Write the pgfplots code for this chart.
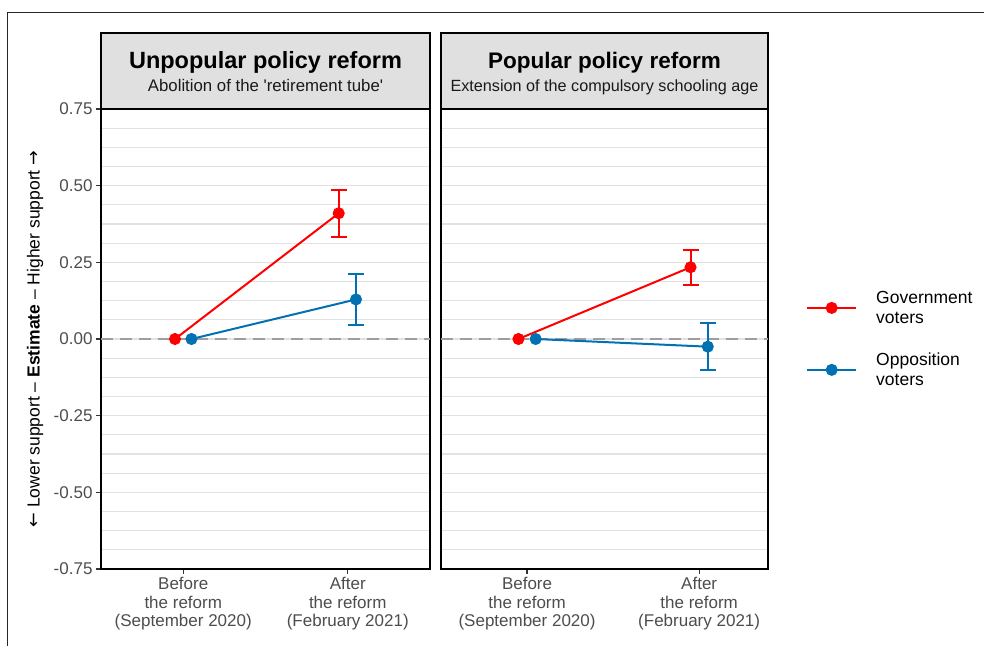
\documentclass[border=0pt]{standalone}
\usepackage{pgfplots}
\pgfplotsset{compat=1.18}
\usepackage{fontspec}
\setmainfont{Liberation Sans}[Ligatures=TeXOff]
\newfontfamily\arrowfont{DejaVu Sans}
\definecolor{govred}{HTML}{FF0000}
\definecolor{oppblue}{HTML}{0072B2}
\definecolor{stripgray}{HTML}{E0E0E0}
\definecolor{gridgray}{HTML}{E2E2E2}
\definecolor{tickgray}{HTML}{4D4D4D}
\definecolor{zerogray}{HTML}{9E9E9E}

\pgfplotsset{
  panel/.style={
    scale only axis, height=460pt,
    ymin=-0.75, ymax=0.75,
    clip=false,
    axis line style={line width=2pt, black},
    xtick={1,2},
    xticklabels={{Before\\the reform\\(September 2020)},{After\\the reform\\(February 2021)}},
    xticklabel style={align=center, font=\fontsize{17}{18.5}\selectfont, text=tickgray},
    ytick={-0.75,-0.5,-0.25,0,0.25,0.5,0.75},
    yticklabels={-0.75,-0.50,-0.25,0.00,0.25,0.50,0.75},
    minor ytick={-0.6875,-0.625,-0.5625,-0.4375,-0.375,-0.3125,-0.1875,-0.125,-0.0625,0.0625,0.125,0.1875,0.3125,0.375,0.4375,0.5625,0.625,0.6875},
    ymajorgrids, yminorgrids,
    major grid style={gridgray, line width=1.3pt},
    minor grid style={gridgray, line width=1.3pt},
    major tick length=5pt, minor tick length=0pt,
    tick align=outside,
    xtick pos=lower, ytick pos=left,
    tick style={line width=1.2pt, black!80},
    yticklabel style={font=\fontsize{17}{20}\selectfont, text=tickgray},
  },
  govline/.style={govred, line width=2pt, mark=*, mark size=5pt, mark options={solid, fill=govred, draw=govred}},
  oppline/.style={oppblue, line width=2pt, mark=*, mark size=5pt, mark options={solid, fill=oppblue, draw=oppblue}},
  goverr/.style={govred, line width=2pt, mark=none, forget plot,
    error bars/.cd, y dir=both, y explicit, error mark=|,
    error bar style={line width=2pt, govred},
    error mark options={govred, line width=2pt, mark size=8pt}},
  opperr/.style={oppblue, line width=2pt, mark=none, forget plot,
    error bars/.cd, y dir=both, y explicit, error mark=|,
    error bar style={line width=2pt, oppblue},
    error mark options={oppblue, line width=2pt, mark size=8pt}},
  zeroline/.style={zerogray, line width=1.5pt, dash pattern=on 12pt off 7pt, forget plot},
}

\begin{document}
\begin{tikzpicture}
\useasboundingbox (0pt,0pt) rectangle (984pt,646pt);
\draw[line width=1.5pt, black!85] (7.5pt,0pt) -- (7.5pt,633.7pt) -- (984pt,633.7pt);

% ---------- Panel 1 ----------
\begin{axis}[panel,
  at={(101pt,77pt)}, anchor=south west,
  width=329pt, xmin=0.5, xmax=2.5,
  ylabel={{\arrowfont ←} Lower support – \textbf{Estimate} – Higher support {\arrowfont →}},
  ylabel style={at={(axis description cs:-0.2006,0.5)}, anchor=center, font=\fontsize{17.5}{20}\selectfont, text=black},
]
\addplot[zeroline] coordinates {(0.5,0) (2.5,0)};
\addplot[goverr] coordinates {(1.945,0.41) +- (0,0.076)};
\addplot[opperr] coordinates {(2.05,0.129) +- (0,0.083)};
\addplot[govline] coordinates {(0.95,0) (1.945,0.41)};
\addplot[oppline] coordinates {(1.05,0) (2.05,0.129)};
\draw[fill=stripgray, draw=black, line width=1.5pt] (rel axis cs:0,1) rectangle (rel axis cs:1,1.1652);
\node[anchor=base, font=\bfseries\fontsize{23.5}{27}\selectfont] at (rel axis cs:0.5,1.0891) {Unpopular policy reform};
\node[anchor=base, font=\fontsize{16.8}{20}\selectfont, text=black!90] at (rel axis cs:0.5,1.0391) {Abolition of the 'retirement tube'};
\end{axis}

% ---------- Panel 2 ----------
\begin{axis}[panel,
  at={(441pt,77pt)}, anchor=south west,
  width=327pt, xmin=0.5, xmax=2.4,
  yticklabels={}, ytick style={draw=none},
  legend image code/.code={\draw[mark repeat=2,mark phase=2,#1] plot coordinates {(0pt,0pt) (24.5pt,0pt) (49pt,0pt)};},
  legend style={at={(1,0.5)}, anchor=west, xshift=38pt, draw=none, fill=none, inner sep=0pt,
    font=\fontsize{17.5}{20}\selectfont, cells={anchor=west, align=left}, row sep=24pt,
    /tikz/every odd column/.append style={column sep=17pt}},
]
\addplot[zeroline] coordinates {(0.5,0) (2.4,0)};
\addplot[goverr] coordinates {(1.95,0.234) +- (0,0.057)};
\addplot[opperr] coordinates {(2.05,-0.025) +- (0,0.077)};
\addplot[govline] coordinates {(0.95,0) (1.95,0.234)};
\addlegendentry{Government\\voters}
\addplot[oppline] coordinates {(1.05,0) (2.05,-0.025)};
\addlegendentry{Opposition\\voters}
\draw[fill=stripgray, draw=black, line width=1.5pt] (rel axis cs:0,1) rectangle (rel axis cs:1,1.1652);
\node[anchor=base, font=\bfseries\fontsize{22.5}{26}\selectfont] at (rel axis cs:0.5,1.0891) {Popular policy reform};
\node[anchor=base, font=\fontsize{16.2}{20}\selectfont, text=black!90] at (rel axis cs:0.5,1.0391) {Extension of the compulsory schooling age};
\end{axis}
\end{tikzpicture}
\end{document}
